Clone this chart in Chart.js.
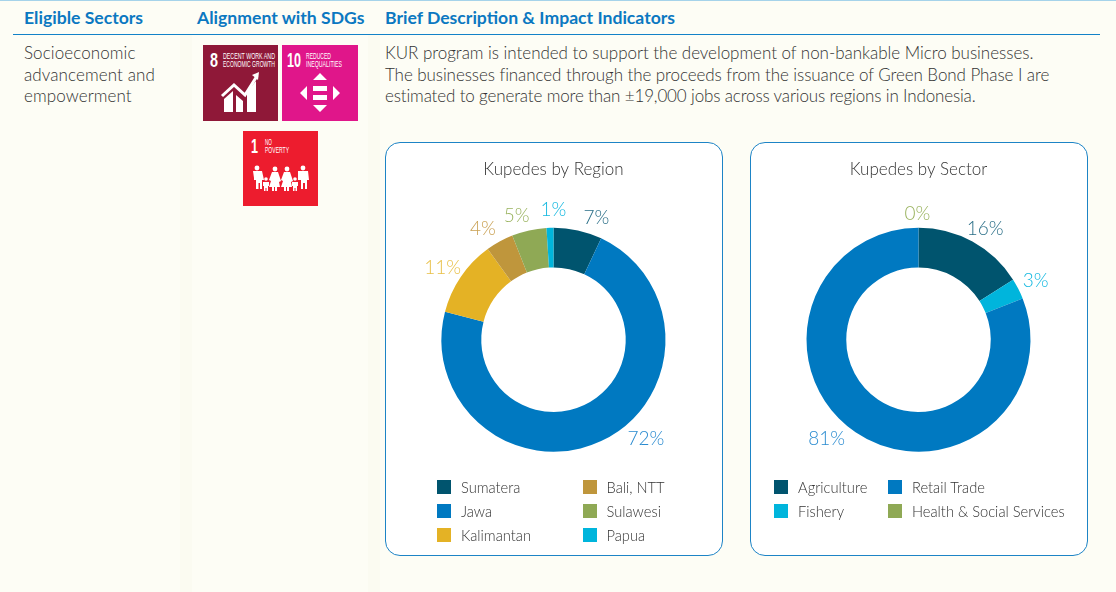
<!DOCTYPE html>
<html>
<head>
<meta charset="utf-8">
<script src="https://cdn.jsdelivr.net/npm/chart.js@4"></script>
<style>
html, body { margin: 0; padding: 0; }
body { width: 1116px; height: 592px; overflow: hidden; position: relative; background: #fdfdf5; font-family: Lato, sans-serif; color: #333; }
.abs { position: absolute; white-space: nowrap; }
.band { position: absolute; top: 35px; bottom: 0; background: #fbfbf1; }
.head { position: absolute; top: 7px; font-size: 17.6px; line-height: 22px; font-weight: 700; color: #0b78c1; white-space: nowrap; }
.body { font-size: 17px; line-height: 21.6px; font-weight: 300; }
.panel { position: absolute; top: 142px; width: 336px; height: 412px; background: #fff; border: 1px solid #1d84c6; border-radius: 15px; }
.panel canvas { position: absolute; left: -1px; top: -1px; }
.legend { position: absolute; top: 475px; display: grid; grid-auto-flow: column; grid-auto-rows: 24px; font-size: 14.7px; font-weight: 300; }
.legend div { display: flex; align-items: center; white-space: nowrap; }
.legend i { flex: none; width: 14px; height: 14px; margin-right: 10px; }
</style>
</head>
<body>
<div class="abs" style="left:0;top:0;width:1116px;height:1px;background:#a5d3ea"></div>
<div class="band" style="left:180px;width:12px"></div>
<div class="band" style="left:368px;width:12px"></div>
<div class="abs" style="left:13px;top:34px;width:1087px;height:1px;background:#1282c8"></div>

<div class="head" style="left:24px">Eligible Sectors</div>
<div class="head" style="left:197px">Alignment with SDGs</div>
<div class="head" style="left:385px">Brief Description &amp; Impact Indicators</div>

<div class="abs body" style="left:24px;top:42px;letter-spacing:.1px">Socioeconomic<br>advancement and<br>empowerment</div>
<div class="abs body" style="left:385px;top:42px"><span style="letter-spacing:-.035px">KUR program is intended to support the development of non-bankable Micro businesses.</span><br><span style="letter-spacing:-.08px">The businesses financed through the proceeds from the issuance of Green Bond Phase I are</span><br><span style="letter-spacing:-.15px">estimated to generate more than ±19,000 jobs across various regions in Indonesia.</span></div>

<svg class="abs" style="left:203px;top:45px" width="75" height="76" viewBox="0 0 75 76">
  <rect width="75" height="76" fill="#8f1838"/>
  <g fill="#fff" font-family="'Liberation Sans'">
    <text x="7" y="22" font-size="21" font-weight="700" textLength="8" lengthAdjust="spacingAndGlyphs">8</text>
    <text x="20" y="13.500" font-size="8.500" textLength="52" lengthAdjust="spacingAndGlyphs">DECENT WORK AND</text>
    <text x="20" y="22" font-size="8.500" textLength="52" lengthAdjust="spacingAndGlyphs">ECONOMIC GROWTH</text>
    <path d="M21 54l9-8v21h-9zM33 50l7 6v11h-7zM44 47l9-11v31h-9z"/>
  </g>
  <path d="M19 51l12-11 11 10 12-19" fill="none" stroke="#fff" stroke-width="3"/>
  <path d="M49 30l7-3-1 8z" fill="#fff"/>
</svg>

<svg class="abs" style="left:282px;top:45px" width="76" height="76" viewBox="0 0 76 76">
  <rect width="76" height="76" fill="#e0168a"/>
  <g fill="#fff" font-family="'Liberation Sans'">
    <text x="5" y="22" font-size="21" font-weight="700" textLength="14" lengthAdjust="spacingAndGlyphs">10</text>
    <text x="24" y="13.500" font-size="8.500" textLength="25" lengthAdjust="spacingAndGlyphs">REDUCED</text>
    <text x="24" y="22" font-size="8.500" textLength="36" lengthAdjust="spacingAndGlyphs">INEQUALITIES</text>
    <path d="M38 28l7 7h-14zM38 67l7-7h-14zM18 48l7-7v14zM58 48l-7-7v14z"/>
    <rect x="31" y="41" width="14" height="5"/>
    <rect x="31" y="50" width="14" height="5"/>
  </g>
</svg>

<svg class="abs" style="left:243px;top:131px" width="75" height="75" viewBox="0 0 75 75">
  <rect width="75" height="75" fill="#ed1c2e"/>
  <g fill="#fff" font-family="'Liberation Sans'">
    <text x="8" y="22" font-size="21" font-weight="700" textLength="7" lengthAdjust="spacingAndGlyphs">1</text>
    <text x="22" y="13.500" font-size="8.500" textLength="7" lengthAdjust="spacingAndGlyphs">NO</text>
    <text x="22" y="22" font-size="8.500" textLength="24" lengthAdjust="spacingAndGlyphs">POVERTY</text>
    <circle cx="14" cy="37" r="2.400"/><path d="M10 40h9l2 9h-2v9h-2v-6h-1.500v6h-2.500v-9h-2v-2z"/>
    <circle cx="32" cy="38" r="2.400"/><path d="M29 41h6l3 9-2 1 1 5h-3v4h-2v-4h-1v4h-2v-4h-3l2-6-2-1z"/>
    <circle cx="44" cy="38" r="2.400"/><path d="M41 41h6l3 9-2 1 1 5h-3v4h-2v-4h-1v4h-2v-4h-3l2-6-2-1z"/>
    <circle cx="60" cy="37" r="2.400"/><path d="M55 40h10l1 9h-2v9h-2v-6h-2v6h-2v-9h-3z"/>
    <circle cx="23" cy="48" r="1.800"/><path d="M20 51h6v4h-1v5h-1.500v-3h-1v3h-1.500v-5h-1z"/>
    <circle cx="52" cy="48" r="1.800"/><path d="M49 51h6v4h-1v5h-1.500v-3h-1v3h-1.500v-5h-1z"/>
  </g>
</svg>

<div class="panel" style="left:385px"><canvas id="regionChart" width="337" height="414"></canvas></div>
<div class="panel" style="left:750px"><canvas id="sectorChart" width="337" height="414"></canvas></div>
<div class="legend" id="regionLegend" style="left:437px;grid-template-rows:repeat(3,24px);grid-auto-columns:145.5px"></div>
<div class="legend" id="sectorLegend" style="left:774px;grid-template-rows:repeat(2,24px);grid-auto-columns:114px"></div>

<script>
const regionLabels = ['Sumatera', 'Jawa', 'Kalimantan', 'Bali, NTT', 'Sulawesi', 'Papua'];
const regionValues = [7, 72, 11, 4, 5, 1];
const sectorLabels = ['Agriculture', 'Fishery', 'Retail Trade', 'Health & Social Services'];
const sectorValues = [16, 3, 81, 0];

const regionColours = ['#00546e', '#0079c1', '#e4b225', '#bf963c', '#8fa955', '#00b5dc'];
const regionTextColours = ['#2b6f88', '#2a8bd0', '#e8bf45', '#c9a052', '#9ab35f', '#14b8e0'];
const sectorColours = ['#00546e', '#00b5dc', '#0079c1', '#8fa955'];
const sectorTextColours = ['#2b6f88', '#14b8e0', '#2a8bd0', '#9ab35f'];

// best-fit nudges of the % labels away from the mid angle
const regionNudges = [[15, 3], [38, -17], [-5, 0], [-9, 1], [-9, 1], [4, -1.5]];
const sectorNudges = [[5, 1], [3, -1], [-20, -7], [-1, 2]];

const percentLabels = {
    id: 'percentLabels',
    afterDatasetsDraw(chart, args, opts) {
        const ctx = chart.ctx;
        const values = chart.data.datasets[0].data;
        ctx.save();
        ctx.font = '300 19px Lato';
        ctx.textAlign = 'center';
        ctx.textBaseline = 'middle';
        chart.getDatasetMeta(0).data.forEach((arc, i) => {
            const p = arc.getProps(['x', 'y', 'startAngle', 'endAngle', 'outerRadius']);
            const mid = (p.startAngle + p.endAngle) / 2;
            const r = p.outerRadius + 16;
            ctx.fillStyle = opts.colours[i];
            ctx.fillText(values[i] + '%', p.x + Math.cos(mid) * r + opts.nudges[i][0], p.y + Math.sin(mid) * r + opts.nudges[i][1]);
        });
        ctx.restore();
    }
};

function renderDoughnut(id, title, labels, values, colours, textColours, nudges) {
    new Chart(document.getElementById(id), {
        type: 'doughnut',
        data: {
            labels: labels,
            datasets: [{ data: values, backgroundColor: colours, borderWidth: 0 }]
        },
        options: {
            responsive: false,
            animation: false,
            cutout: '64.5%',
            layout: { padding: { left: 56.5, right: 56.5, top: 0, bottom: 104 } },
            plugins: {
                legend: { display: false },
                tooltip: { enabled: false },
                title: {
                    display: true,
                    text: title,
                    color: '#333',
                    font: { family: 'Lato', size: 17, weight: '300' },
                    padding: { top: 17.5, bottom: 47.5 }
                },
                percentLabels: { colours: textColours, nudges: nudges }
            }
        },
        plugins: [percentLabels]
    });
}

// legend runs column by column, same order as the data
function renderLegend(id, labels, colours) {
    const box = document.getElementById(id);
    labels.forEach((label, i) => {
        const row = document.createElement('div');
        const swatch = document.createElement('i');
        swatch.style.background = colours[i];
        row.appendChild(swatch);
        row.appendChild(document.createTextNode(label));
        box.appendChild(row);
    });
}

renderDoughnut('regionChart', 'Kupedes by Region', regionLabels, regionValues, regionColours, regionTextColours, regionNudges);
renderDoughnut('sectorChart', 'Kupedes by Sector', sectorLabels, sectorValues, sectorColours, sectorTextColours, sectorNudges);
renderLegend('regionLegend', regionLabels, regionColours);
renderLegend('sectorLegend', sectorLabels, sectorColours);
</script>
</body>
</html>
